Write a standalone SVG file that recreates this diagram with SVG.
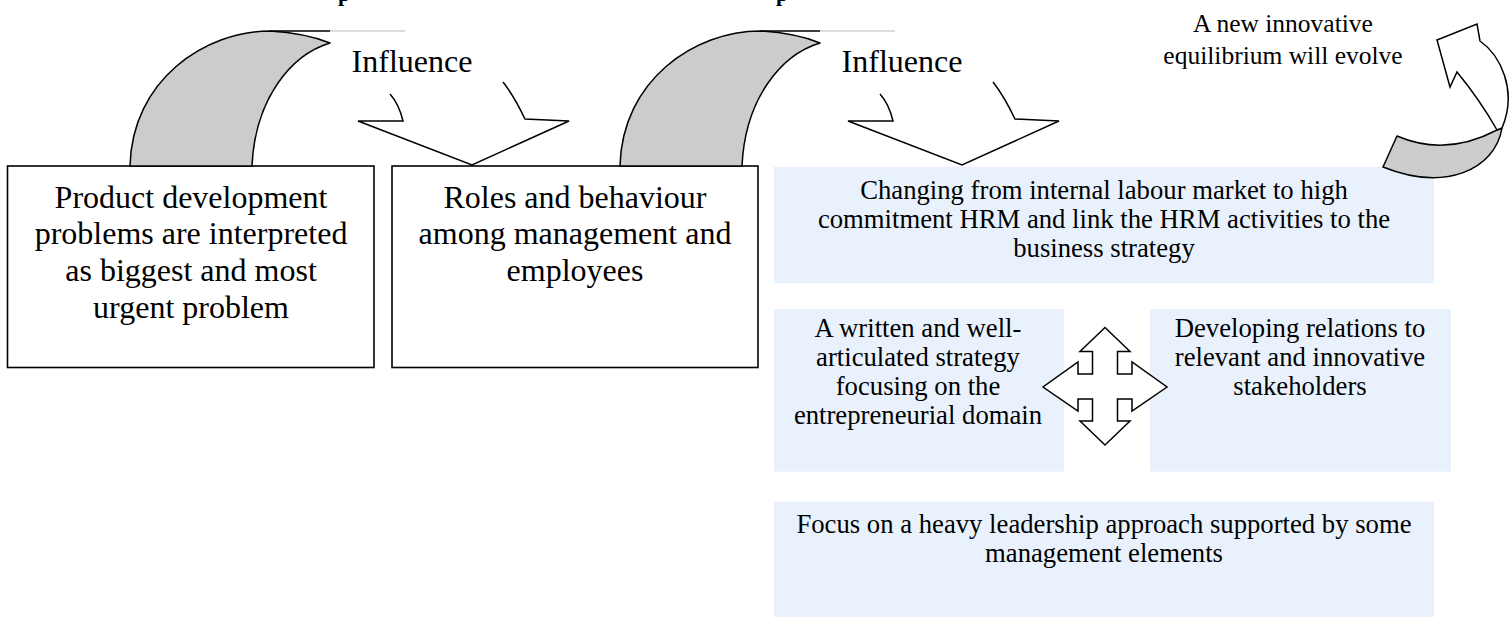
<svg xmlns="http://www.w3.org/2000/svg" width="1512" height="617" viewBox="0 0 1512 617">
<style>
text{font-family:"Liberation Serif","Times New Roman",serif;fill:#000;text-anchor:middle}
.big{font-size:32px}
.mid{font-size:26.7px}
.eq{font-size:25.5px}
.box{fill:#fff;stroke:#000;stroke-width:1.6}
.blue{fill:#E9F2FC;stroke:none}
.curve{fill:#CCCCCC;stroke:#000;stroke-width:1.5;stroke-linejoin:round}
.line{fill:none;stroke:#000;stroke-width:1.5;stroke-linejoin:miter}
.ghost{fill:none;stroke:#BBBBBB;stroke-width:1}
.title{font-weight:bold;font-size:22px;text-anchor:start}
</style>
<rect width="1512" height="617" fill="#fff"/>
<g id="title-fragment">
<text class="title" x="338" y="1">p</text>
<text class="title" x="776" y="1">p</text>
</g>
<g id="node-product">
<rect class="box" x="7.5" y="166" width="366.5" height="201.5"/>
<text class="big" x="191" y="207.5">Product development</text>
<text class="big" x="191" y="244.2">problems are interpreted</text>
<text class="big" x="191" y="280.9">as biggest and most</text>
<text class="big" x="191" y="317.6">urgent problem</text>
</g>
<g id="node-roles">
<rect class="box" x="392" y="166" width="366" height="201.5"/>
<text class="big" x="575" y="207.5">Roles and behaviour</text>
<text class="big" x="575" y="244.2">among management and</text>
<text class="big" x="575" y="280.9">employees</text>
</g>
<g id="node-hrm">
<rect class="blue" x="774" y="166.7" width="660" height="116.6"/>
<text class="mid" x="1104" y="199.3">Changing from internal labour market to high</text>
<text class="mid" x="1104" y="228.3">commitment HRM and link the HRM activities to the</text>
<text class="mid" x="1104" y="257.3">business strategy</text>
</g>
<g id="node-strategy">
<rect class="blue" x="774" y="309.3" width="290" height="162.4"/>
<text class="mid" x="918" y="336.7">A written and well-</text>
<text class="mid" x="918" y="365.7">articulated strategy</text>
<text class="mid" x="918" y="394.7">focusing on the</text>
<text class="mid" x="918" y="423.7">entrepreneurial domain</text>
</g>
<g id="node-stakeholders">
<rect class="blue" x="1150" y="309.3" width="301" height="162.4"/>
<text class="mid" x="1300" y="336.7">Developing relations to</text>
<text class="mid" x="1300" y="365.7">relevant and innovative</text>
<text class="mid" x="1300" y="394.7">stakeholders</text>
</g>
<g id="node-leadership">
<rect class="blue" x="774" y="501.7" width="660" height="115.3"/>
<text class="mid" x="1104" y="532.7">Focus on a heavy leadership approach supported by some</text>
<text class="mid" x="1104" y="561.7">management elements</text>
</g>
<g id="label-influence-1"><text class="big" x="412" y="72">Influence</text></g>
<g id="label-influence-2"><text class="big" x="902" y="72">Influence</text></g>
<g id="label-equilibrium">
<text class="eq" x="1283" y="32">A new innovative</text>
<text class="eq" x="1283" y="63.5">equilibrium will evolve</text>
</g>
<g id="connectors">
<g id="curved-arrow-1">
<path class="curve" d="M130,166 C132,80 205,31 270,31 Q305,33 330,43 C290,55 255,100 252,166 Z"/>
<path class="line" d="M270,31 L330,31"/>
<path class="ghost" d="M330,31 L405,31"/>
</g>
<g id="curved-arrow-2">
<path class="curve" d="M620,166 C622,80 695,31 760,31 Q795,33 820,43 C780,55 745,100 742,166 Z"/>
<path class="line" d="M760,31 L820,31"/>
<path class="ghost" d="M820,31 L895,31"/>
</g>
<g id="influence-arrow-1">
<path class="line" d="M390,94 Q399,104 403,121 L358,121 L472,165 L569,121 L525,119 Q514,96 503,82"/>
</g>
<g id="influence-arrow-2">
<path class="line" d="M880,94 Q889,104 893,121 L848,121 L962,165 L1059,121 L1015,119 Q1004,96 993,82"/>
</g>
<g id="evolve-arrow">
<path class="curve" d="M1397,136 Q1446,157 1497,130 L1502,128 C1495,170 1445,192 1383,167 Z"/>
<path d="M1437,40 L1477,24 L1480,41 C1500,55 1518,90 1502,128 L1497,130 Q1480,100 1457,72 L1450,87 Z" fill="#fff" stroke="#000" stroke-width="1.5" stroke-linejoin="miter"/>
</g>
<g id="quad-arrow">
<path d="M1105,327.5 L1130,351.5 L1117.5,351.5 L1117.5,374 L1132,374 L1132,362 L1167,387 L1132,411 L1132,399 L1117.5,399 L1117.5,421 L1130,421 L1105,445 L1080,421 L1092.5,421 L1092.5,399 L1078,399 L1078,411 L1043,387 L1078,362 L1078,374 L1092.5,374 L1092.5,351.5 L1080,351.5 Z" fill="#fff" stroke="#000" stroke-width="1.5" stroke-linejoin="miter"/>
</g>
</g>
</svg>
